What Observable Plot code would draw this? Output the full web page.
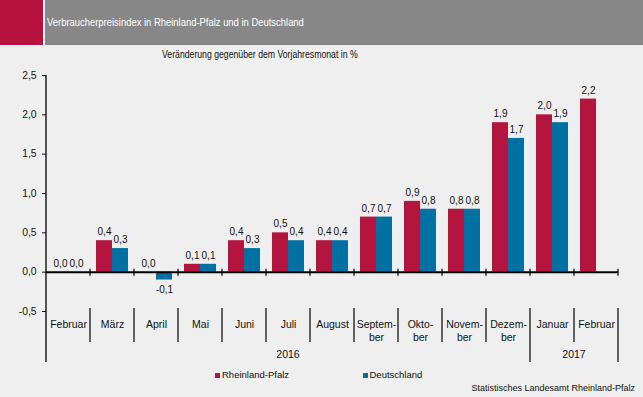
<!DOCTYPE html>
<html><head><meta charset="utf-8">
<script src="https://cdn.jsdelivr.net/npm/d3@7"></script>
<script src="https://cdn.jsdelivr.net/npm/@observablehq/plot@0.6"></script>
<style>
html,body{margin:0;padding:0;}
body{background:#eeefee;width:643px;height:397px;overflow:hidden;position:relative;font-family:"Liberation Sans",Arial,sans-serif;}
#hdr-red{position:absolute;left:0;top:0;width:43px;height:45px;background:#b5133e;}
#hdr-gap{position:absolute;left:43px;top:0;width:2px;height:45px;background:#fff;}
#hdr{position:absolute;left:45px;top:0;width:598px;height:45px;background:#878787;}
#title{position:absolute;left:47px;top:16.5px;color:#fff;font-size:11.5px;line-height:11.5px;transform:scaleX(0.82);transform-origin:left top;white-space:nowrap;}
#sub{position:absolute;left:162px;top:48.5px;color:#111;font-size:11px;line-height:11px;transform:scaleX(0.79);transform-origin:left top;white-space:nowrap;}
#chart{position:absolute;left:0;top:44px;}
.leg{position:absolute;top:370px;font-size:9.5px;line-height:10px;color:#111;white-space:nowrap;}
.sw{position:absolute;top:373px;width:5px;height:5px;}
#cap{position:absolute;right:8px;top:384px;font-size:9px;line-height:9px;color:#111;white-space:nowrap;}
</style>
</head>
<body>
<div id="hdr-red"></div><div id="hdr-gap"></div><div id="hdr"></div>
<div id="title">Verbraucherpreisindex in Rheinland-Pfalz und in Deutschland</div>
<div id="sub">Veränderung gegenüber dem Vorjahresmonat in %</div>
<div id="chart"></div>
<div class="sw" id="sw1"></div><div class="leg" id="leg1"></div>
<div class="sw" id="sw2"></div><div class="leg" id="leg2"></div>
<div id="cap">Statistisches Landesamt Rheinland-Pfalz</div>
<script>
// ---- data ----
const keys = ["2016-02","2016-03","2016-04","2016-05","2016-06","2016-07","2016-08","2016-09","2016-10","2016-11","2016-12","2017-01","2017-02"];
const monthLabels = ["Februar","März","April","Mai","Juni","Juli","August","Septem-\nber","Okto-\nber","Novem-\nber","Dezem-\nber","Januar","Februar"];
const yearOf = ["2016","2016","2016","2016","2016","2016","2016","2016","2016","2016","2016","2017","2017"];
const seriesNames = ["Rheinland-Pfalz","Deutschland"];
const rlp = [0.0,0.4,0.0,0.1,0.4,0.5,0.4,0.7,0.9,0.8,1.9,2.0,2.2];
const de  = [0.0,0.3,-0.1,0.1,0.3,0.4,0.4,0.7,0.8,0.8,1.7,1.9,null];
const yTicks = [-0.5,0,0.5,1,1.5,2,2.5];
const colors = ["#b4153f","#0071a2"];

const fmt = v => v.toFixed(1).replace(".", ",");
const rows = [];
keys.forEach((k,i) => {
  rows.push({key:k, series:seriesNames[0], v:rlp[i], i});
  if (de[i] != null) rows.push({key:k, series:seriesNames[1], v:de[i], i});
});

const plot = Plot.plot({
  width: 643, height: 353,
  marginTop: 31, marginBottom: 86, marginLeft: 45, marginRight: 23.5,
  style: {background: "transparent", fontFamily: "'Liberation Sans', Arial, sans-serif", fontSize: "10.3px", color: "#111", overflow: "visible"},
  facet: {data: rows, x: "key"},
  fx: {domain: keys, padding: 0, axis: null, label: null},
  x: {domain: seriesNames, paddingInner: 0, paddingOuter: 0.34, axis: null, label: null},
  y: {domain: [-0.5, 2.5], ticks: yTicks, tickFormat: fmt, tickSize: 4, tickPadding: 6, label: null},
  color: {domain: seriesNames, range: colors},
  marks: [
    Plot.barY(rows, {x: "series", y: "v", fill: "series"}),
    Plot.ruleY([0], {stroke: "#000", strokeWidth: 2}),
    Plot.text(rows, {filter: d => d.v >= 0, x: "series", y: "v", text: d => fmt(d.v), lineAnchor: "bottom", dy: -5.5, fill: "#111", fontSize: 10}),
    Plot.text(rows, {filter: d => d.v < 0, x: "series", y: "v", text: d => fmt(d.v), lineAnchor: "top", dy: 6, fill: "#111", fontSize: 10}),
    Plot.text(rows, {filter: d => d.series === seriesNames[0], frameAnchor: "bottom", text: d => monthLabels[d.i], lineAnchor: "top", dy: 8.2, lineHeight: 1.17, fill: "#111", fontSize: 10.5})
  ]
});
document.getElementById("chart").appendChild(plot);

// ---- axis decorations from the plot's scales ----
const svg = d3.select(plot.tagName.toLowerCase() === "svg" ? plot : plot.querySelector("svg"));
const fxS = plot.scale("fx");
const yS = plot.scale("y");
const edges = keys.map(k => fxS.apply(k));
edges.push(fxS.apply(keys[keys.length-1]) + fxS.bandwidth);
const y0 = yS.apply(0), yTop = yS.apply(2.5), yBot = yS.apply(-0.5);
const g = svg.append("g").attr("stroke", "#000").attr("fill", "none");
// y axis line
g.append("line").attr("x1", edges[0]).attr("x2", edges[0]).attr("y1", yTop).attr("y2", yBot + 51).attr("stroke-width", 1.3);
edges.forEach((x, i) => {
  if (i > 0) g.append("line").attr("x1", x).attr("x2", x).attr("y1", y0 - 3).attr("y2", y0 + 4).attr("stroke-width", 1.2);
  const groupEdge = i === 0 || i === edges.length - 1 || (i < keys.length && yearOf[i] !== yearOf[i-1]);
  if (i > 0) g.append("line").attr("x1", x).attr("x2", x).attr("y1", yBot - 3).attr("y2", yBot + (groupEdge ? 51 : 31)).attr("stroke-width", 1.2);
});
// year labels
const years = Array.from(new Set(yearOf));
years.forEach(yr => {
  const idx = yearOf.map((v,i) => v === yr ? i : -1).filter(i => i >= 0);
  const xc = (edges[idx[0]] + edges[idx[idx.length-1] + 1]) / 2;
  svg.append("text").attr("x", xc).attr("y", yBot + 47).attr("text-anchor", "middle")
    .attr("font-size", 10.5).attr("fill", "#111").text(yr);
});

// legend
document.getElementById("sw1").style.cssText = `left:215px;background:${colors[0]}`;
document.getElementById("leg1").style.left = "222px";
document.getElementById("leg1").textContent = seriesNames[0];
document.getElementById("sw2").style.cssText = `left:363px;background:${colors[1]}`;
document.getElementById("leg2").style.left = "369.5px";
document.getElementById("leg2").textContent = seriesNames[1];
</script>
</body></html>
